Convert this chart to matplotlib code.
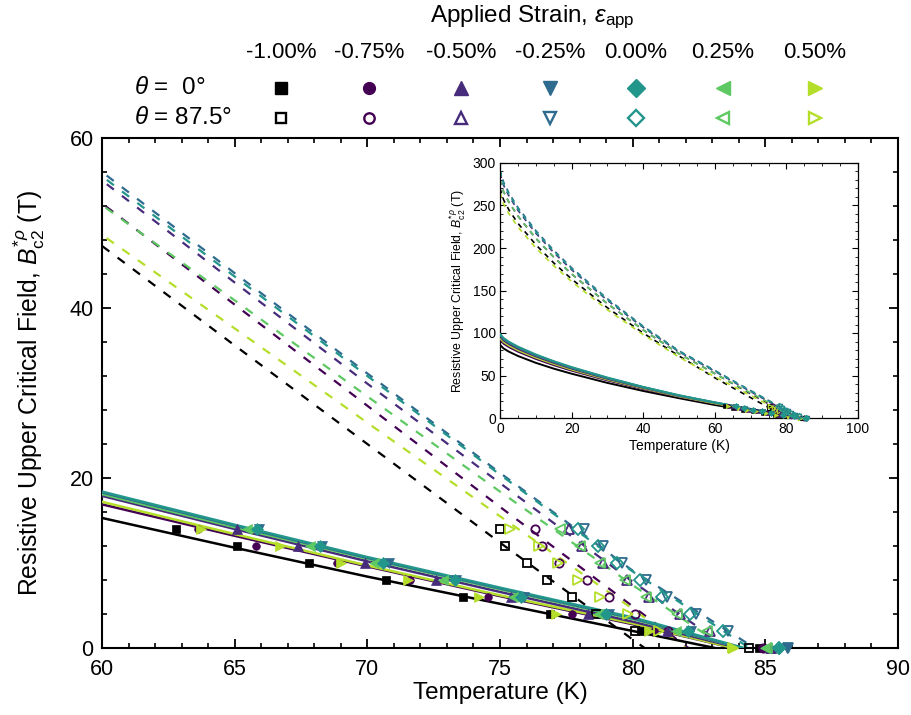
import matplotlib
matplotlib.use('Agg')
import matplotlib.pyplot as plt
from matplotlib.ticker import MultipleLocator

plt.rcParams['font.family'] = ['Liberation Sans', 'DejaVu Sans']
plt.rcParams['mathtext.fontset'] = 'custom'
plt.rcParams['mathtext.rm'] = 'Liberation Sans'
plt.rcParams['mathtext.it'] = 'Liberation Sans:italic'
plt.rcParams['mathtext.bf'] = 'Liberation Sans:bold'

# ---------------- data ----------------
strains = ['-1.00%', '-0.75%', '-0.50%', '-0.25%', '0.00%', '0.25%', '0.50%']
colors = ['#000000', '#440154', '#482c7c', '#2f6b8e', '#22968b', '#5ec962', '#b5de2b']
markers = ['s', 'o', '^', 'v', 'D', '<', '>']

field_levels = [14, 12, 10, 8, 6, 4, 2, 0]

# measured Tc(B) points, theta = 0 deg (filled)
c_m100 = [62.8, 65.1, 67.8, 70.7, 73.6, 76.9, 80.3, 84.75]
c_m075 = [63.6, 65.8, 68.85, 71.6, 74.55, 77.7, 80.8, 84.9]
c_m050 = [65.1, 67.4, 69.9, 72.6, 75.4, 78.3, 81.3, 85.2]
c_m025 = [65.9, 68.3, 70.8, 73.35, 75.9, 79.1, 82.2, 85.8]
c_p000 = [65.85, 68.2, 70.6, 73.3, 75.8, 79.0, 82.1, 85.5]
c_p025 = [65.45, 67.85, 70.25, 72.85, 75.5, 78.7, 81.65, 85.0]
c_p050 = [63.75, 66.7, 69.0, 71.55, 74.2, 77.1, 80.6, 83.8]

# measured Tc(B) points, theta = 87.5 deg (open)
o_m100 = [75.0, 75.2, 76.03, 76.78, 77.7, 78.6, 80.09, 84.4]
o_m075 = [76.32, 76.6, 77.23, 78.27, 79.12, 80.1, 81.35, 84.9]
o_m050 = [77.6, 78.1, 78.9, 79.8, 80.6, 81.8, 82.9, 85.2]
o_m025 = [78.16, 78.9, 79.6, 80.5, 81.3, 82.4, 83.6, 85.87]
o_p000 = [77.95, 78.7, 79.4, 80.28, 81.1, 82.17, 83.4, 85.53]
o_p025 = [77.25, 78.0, 78.77, 79.7, 80.5, 81.66, 82.8, 85.05]
o_p050 = [75.38, 76.48, 77.2, 77.95, 78.77, 79.84, 81.0, 83.77]

# fit curves, temperature grid (last point is the fit Tc of each curve)
fit_T = [0, 1, 2.5, 5, 10, 15, 20, 30, 40, 50, 60, 65, 70, 75, 80]
Tc_solid = [83.1, 83.8, 84.0, 84.1, 84.2, 84.1, 83.8]
Tc_dashed = [80.45, 82.1, 83.6, 84.6, 84.4, 83.5, 82.0]

# fits theta = 0 deg (solid)
s_m100 = [86, 81.8, 78.0, 73.0, 64.9, 58.1, 52.1, 41.3, 31.8, 23.3, 15.3, 11.8, 8.4, 5.2, 2.0, 0]
s_m075 = [92, 87.5, 83.4, 78.1, 69.5, 62.2, 55.7, 44.2, 34.0, 24.9, 16.9, 13.2, 9.6, 6.1, 2.8, 0]
s_m050 = [96, 91.3, 87.0, 81.4, 72.5, 64.9, 58.1, 46.1, 35.5, 26.0, 17.9, 14.0, 10.2, 6.6, 3.1, 0]
s_m025 = [98, 93.2, 88.8, 83.1, 74.0, 66.3, 59.3, 47.1, 36.3, 26.5, 18.3, 14.4, 10.6, 7.0, 3.5, 0]
s_p000 = [99, 94.1, 89.7, 84.0, 74.8, 66.9, 59.9, 47.6, 36.6, 26.8, 18.4, 14.5, 10.7, 7.1, 3.6, 0]
s_p025 = [98, 93.2, 88.8, 83.1, 74.0, 66.3, 59.3, 47.1, 36.3, 26.5, 18.1, 14.2, 10.5, 6.9, 3.4, 0]
s_p050 = [94, 89.4, 85.2, 79.7, 71.0, 63.6, 56.9, 45.2, 34.8, 25.4, 17.2, 13.4, 9.7, 6.2, 2.9, 0]

# fits theta = 87.5 deg (dashed)
d_m100 = [270, 256.7, 244.8, 229.1, 203.9, 182.5, 163.5, 129.7, 99.9, 73.0, 47.3, 35.6, 24.0, 12.4, 1.0, 0]
d_m075 = [280, 266.2, 253.8, 237.6, 211.4, 189.3, 169.5, 134.5, 103.6, 75.7, 52.3, 40.4, 28.5, 16.6, 4.9, 0]
d_m050 = [288, 273.8, 261.1, 244.3, 217.5, 194.7, 174.4, 138.4, 106.6, 77.9, 55.0, 43.0, 31.1, 19.4, 7.8, 0]
d_m025 = [292, 277.6, 264.7, 247.7, 220.5, 197.4, 176.8, 140.3, 108.0, 79.0, 56.0, 44.1, 32.3, 20.6, 9.1, 0]
d_p000 = [290, 275.7, 262.9, 246.0, 219.0, 196.1, 175.6, 139.3, 107.3, 78.4, 55.5, 43.7, 32.0, 20.4, 9.0, 0]
d_p025 = [280, 266.2, 253.8, 237.6, 211.4, 189.3, 169.5, 134.5, 103.6, 75.7, 52.1, 40.9, 29.6, 18.4, 7.4, 0]
d_p050 = [265, 251.9, 240.2, 224.8, 200.1, 179.2, 160.5, 127.3, 98.1, 71.7, 48.6, 37.6, 26.5, 15.5, 4.6, 0]

closed_T = [c_m100, c_m075, c_m050, c_m025, c_p000, c_p025, c_p050]
open_T = [o_m100, o_m075, o_m050, o_m025, o_p000, o_p025, o_p050]
solid_B = [s_m100, s_m075, s_m050, s_m025, s_p000, s_p025, s_p050]
dashed_B = [d_m100, d_m075, d_m050, d_m025, d_p000, d_p025, d_p050]

msize = [5.5, 5.5, 6.5, 6.5, 5.8, 6.5, 6.5]

# ---------------- figure ----------------
W, H = 911, 715
fig = plt.figure(figsize=(W / 100, H / 100), dpi=100)


def fbox(x0, y0, x1, y1):
    return [x0 / W, 1 - y1 / H, (x1 - x0) / W, (y1 - y0) / H]


ax = fig.add_axes(fbox(102, 138, 898, 648))

order = [0, 1, 6, 2, 5, 3, 4]
for i in order:
    c = colors[i]
    tgrid_s = fit_T + [Tc_solid[i]]
    tgrid_d = fit_T + [Tc_dashed[i]]
    ax.plot(tgrid_d, dashed_B[i], color=c, lw=1.6, dashes=[4.0, 4.6], zorder=2)
    ax.plot(tgrid_s, solid_B[i], color=c, lw=1.8, zorder=3)
for i in order:
    c = colors[i]
    ax.plot(closed_T[i], field_levels, ls='none', marker=markers[i], ms=msize[i],
            mfc=c, mec=c, mew=0.5, zorder=4, clip_on=False)
    ax.plot(open_T[i], field_levels, ls='none', marker=markers[i], ms=msize[i] + 0.5,
            mfc='none', mec=c, mew=1.3, zorder=4, clip_on=False)

ax.set_xlim(60, 90)
ax.set_ylim(0, 60)
ax.xaxis.set_major_locator(MultipleLocator(5))
ax.xaxis.set_minor_locator(MultipleLocator(1))
ax.yaxis.set_major_locator(MultipleLocator(20))
ax.yaxis.set_minor_locator(MultipleLocator(4))
ax.tick_params(which='both', direction='in', top=True, right=True, labelsize=15.5)
ax.tick_params(which='major', length=6.5, width=1.3)
ax.tick_params(axis='x', which='major', pad=8)
ax.tick_params(axis='y', which='major', pad=6)
ax.tick_params(which='minor', length=3.5, width=1.2)
for sp in ax.spines.values():
    sp.set_linewidth(1.5)
ax.set_xlabel('Temperature (K)', fontsize=17.5, labelpad=1)
ax.set_ylabel(r'Resistive Upper Critical Field, $B_{\rm c2}^{*\rho}$ (T)', fontsize=17.8, labelpad=16)

# ---------------- inset ----------------
ins = fig.add_axes(fbox(500, 163, 858, 418))
for i in order:
    c = colors[i]
    tgrid_s = fit_T + [Tc_solid[i]]
    tgrid_d = fit_T + [Tc_dashed[i]]
    ins.plot(tgrid_d, dashed_B[i], color=c, lw=1.2, dashes=[3, 3], zorder=2)
    ins.plot(tgrid_s, solid_B[i], color=c, lw=1.4, zorder=3)
for i in order:
    c = colors[i]
    ins.plot(closed_T[i], field_levels, ls='none', marker=markers[i], ms=3.2,
             mfc=c, mec=c, mew=0.4, zorder=4, clip_on=False)
    ins.plot(open_T[i], field_levels, ls='none', marker=markers[i], ms=3.2,
             mfc='none', mec=c, mew=0.8, zorder=4, clip_on=False)
ins.set_xlim(0, 100)
ins.set_ylim(0, 300)
ins.xaxis.set_major_locator(MultipleLocator(20))
ins.xaxis.set_minor_locator(MultipleLocator(5))
ins.yaxis.set_major_locator(MultipleLocator(50))
ins.yaxis.set_minor_locator(MultipleLocator(10))
ins.tick_params(which='both', direction='in', top=True, right=True, labelsize=10)
ins.tick_params(which='major', length=4, width=0.8, pad=3)
ins.tick_params(which='minor', length=2, width=0.6)
for sp in ins.spines.values():
    sp.set_linewidth(0.9)
ins.set_xlabel('Temperature (K)', fontsize=10, labelpad=2)
ins.set_ylabel(r'Resistive Upper Critical Field, $B_{\rm c2}^{*\rho}$ (T)', fontsize=8.9, labelpad=3)

# ---------------- legend (top) ----------------
lg = fig.add_axes([0, 0, 1, 1])
lg.set_xlim(0, W)
lg.set_ylim(H, 0)
lg.axis('off')

lg.text(532, 17, r'Applied Strain, $\varepsilon_{\rm app}$', fontsize=17.5,
        ha='center', va='center')
col_x = [281, 369, 461, 550, 636, 723, 815]
for i in range(7):
    lg.text(col_x[i], 52, strains[i], fontsize=16, ha='center', va='center')
    lg.plot([col_x[i]], [88], marker=markers[i], ms=msize[i] + 3, color=colors[i],
            mec=colors[i], ls='none')
    lg.plot([col_x[i]], [118], marker=markers[i], ms=msize[i] + 2, mfc='none',
            mec=colors[i], mew=1.7, ls='none')
lg.text(134, 88, r'$\theta$' + ' =  0°', fontsize=17.5, ha='left', va='center')
lg.text(134, 118, r'$\theta$' + ' = 87.5°', fontsize=17.5, ha='left', va='center')

fig.savefig('out.png', dpi=100)
